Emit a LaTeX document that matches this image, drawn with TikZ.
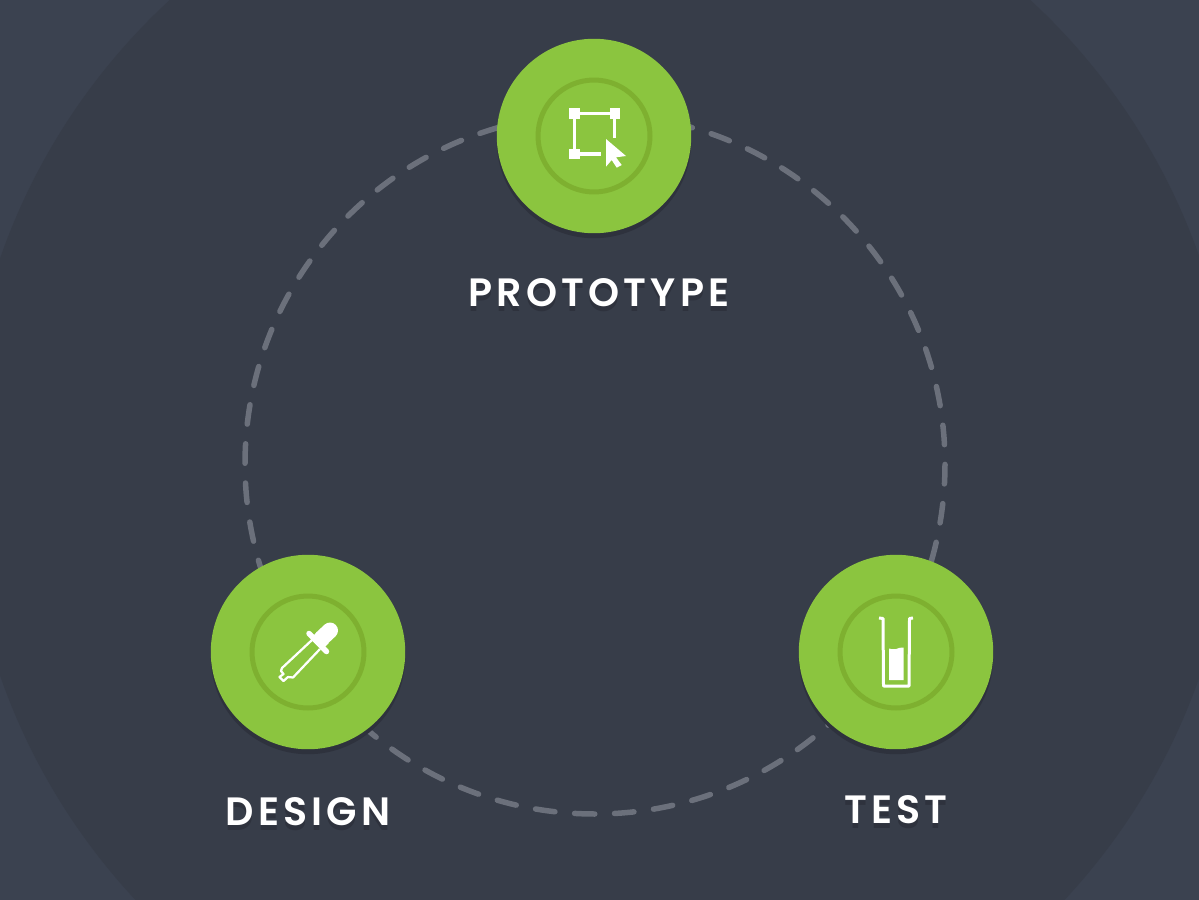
\documentclass[tikz,border=0pt]{standalone}
\usepackage{fontspec}
\setmainfont{Poppins}[BoldFont = {Poppins SemiBold}, LetterSpace = 10.5]
\usetikzlibrary{shadows}

\definecolor{pagecorner}{HTML}{3B4250}
\definecolor{pagefill}{HTML}{373D49}
\definecolor{ringgrey}{HTML}{6B707B}
\definecolor{discgreen}{HTML}{8BC53F}
\definecolor{hubgreen}{HTML}{7EB030}
\definecolor{castdark}{HTML}{2E323D}

\newcommand{\castlabel}[1]{\rlap{\raisebox{-0.09cm}{\textcolor{castdark}{#1}}}#1}

\begin{document}
\begin{tikzpicture}[x = 0.02cm, y = -0.02cm,
	disc/.style = {circle, fill = discgreen, minimum size = 3.89cm, inner sep = 0,
		general shadow = {fill = castdark, shadow xshift = 0, shadow yshift = -0.1cm}},
	hub/.style = {circle, draw = hubgreen, line width = 0.1cm, minimum size = 2.24cm, inner sep = 0},
	steplabel/.style = {text = white, font = \fontsize{22.5}{22.5}\selectfont\bfseries},
	glyph/.style = {draw = white, line width = 0.065cm, line join = round},
	solidglyph/.style = {fill = white}]

	\useasboundingbox (0, 0) rectangle (1199, 899);

	% Background

	\fill [pagecorner] (-5, -5) rectangle (1204, 904);
	\begin{scope}
		\clip (-5, -5) rectangle (1204, 904);
		\fill [pagefill] (600, 467) circle [radius = 635];
	\end{scope}

	% Ring

	\coordinate (ringcentre) at (595, 464);
	\draw [ringgrey, line width = 0.11cm, line cap = round, dash pattern = on 0.39cm off 0.3954cm]
		(ringcentre) ++(90.15:350) arc [start angle = 90.15, delta angle = 360, radius = 350];

	% Discs

	\node [disc] (prototype) at (594, 136) {};
	\node [disc] (design) at (308, 652) {};
	\node [disc] (test) at (896, 652) {};

	\node [hub] (prototypehub) at (prototype) {};
	\node [hub] (designhub) at (design) {};
	\node [hub] (testhub) at (test) {};

	% Prototype icon

	\draw [glyph] (574.5, 113.5) -- (614.5, 113.5);
	\draw [glyph] (574.5, 113.5) -- (574.5, 154);
	\draw [glyph] (614.5, 113.5) -- (614.5, 138);
	\draw [glyph] (574.5, 154) -- (601, 154);
	\fill [solidglyph] (569, 108) rectangle (579.5, 118.5);
	\fill [solidglyph] (609.5, 108) rectangle (620, 118.5);
	\fill [solidglyph] (569, 148.5) rectangle (579.5, 159);
	\fill [solidglyph] (606, 139) -- (626, 156) -- (616, 157.3) -- (621.7, 165)
		-- (616.7, 167.7) -- (611.7, 160) -- (606, 166.7) -- cycle;

	% Design icon

	\draw [white, line width = 0.32cm, line cap = round] (322, 638) -- (330, 630.5);
	\draw [white, line width = 0.32cm] (318, 642.5) -- (323, 637.5);
	\draw [white, line width = 0.11cm, line cap = round] (309, 633.5) -- (326.5, 651.5);
	\draw [glyph, line width = 0.045cm] (312, 640) -- (282, 668) -- (281, 671) -- (283.5, 674)
		-- (279.5, 677) -- (283.5, 681) -- (288, 677) -- (293, 677.5) -- (320, 649);

	% Test icon

	\draw [glyph, line width = 0.06cm] (879, 618) -- (883, 618.5) -- (883.5, 686) -- (909, 686)
		-- (909.5, 618.5) -- (913, 618);
	\fill [solidglyph] (889, 648.5) .. controls (893, 650) and (897, 649) .. (899, 648)
		.. controls (901, 647.5) and (903, 647.5) .. (903.5, 647.5) -- (903.5, 680) -- (889, 680) -- cycle;

	% Labels

	\node [steplabel] (prototypelabel) at (599, 295) {\castlabel{PROTOTYPE}};
	\node [steplabel] (designlabel) at (308, 814) {\castlabel{DESIGN}};
	\node [steplabel] (testlabel) at (896, 812) {\castlabel{TEST}};

\end{tikzpicture}
\end{document}
